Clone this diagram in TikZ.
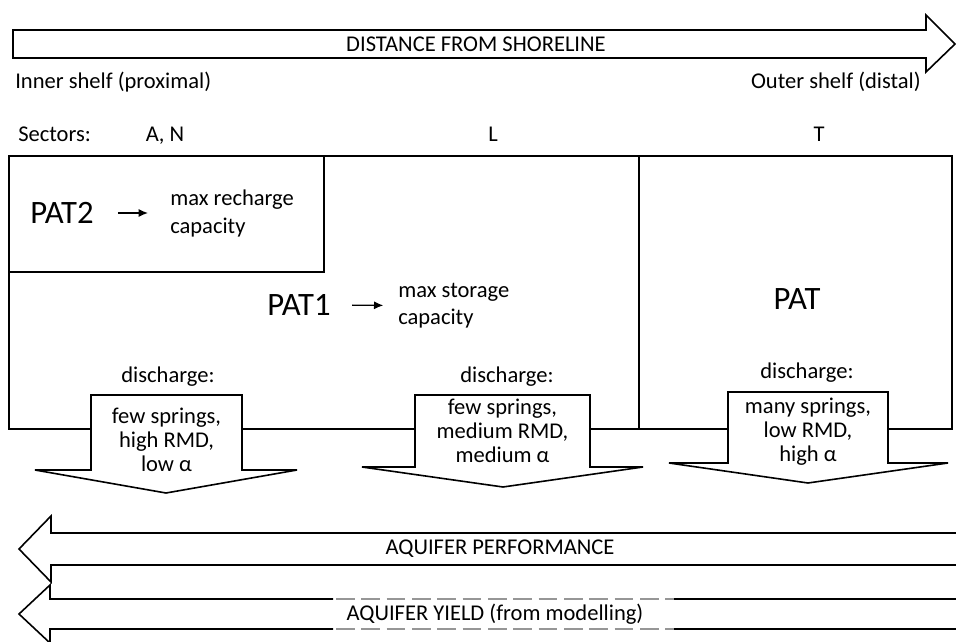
\documentclass[tikz,border=0pt]{standalone}
\usepackage{fontspec}
\setmainfont{Carlito}
\usetikzlibrary{arrows.meta}
\begin{document}
\begin{tikzpicture}[x=0.75pt,y=-0.75pt,
  txt/.style={inner sep=0pt, font=\fontsize{16.9}{19}\selectfont},
  big/.style={inner sep=0pt, font=\fontsize{24.5}{28}\selectfont},
  frame/.style={draw=black, line width=1.2pt},
  arrowshape/.style={draw=black, fill=white, line width=1.2pt, line join=miter},
  desc/.style={inner sep=0pt, align=left, anchor=west},
  spring/.style={inner sep=0pt, align=center, font=\fontsize{16.9}{18}\selectfont},
  pointer/.style={-{Latex[length=7pt,width=6pt]}, line width=1pt},
  yielddash/.style={draw={rgb,255:red,150;green,150;blue,150}, line width=1.8pt, dash pattern=on 14pt off 5pt}
]
\clip (0,0) rectangle (956,642);

% top arrow
\draw[arrowshape] (13,30) -- (926,30) -- (926,15) -- (955,44) -- (926,72) -- (926,58) -- (13,58) -- cycle;
\node[txt] (dist) at (476,44) {DISTANCE FROM SHORELINE};
\node[txt, anchor=west] (inner) at (15,82) {Inner shelf (proximal)};
\node[txt, anchor=east] (outer) at (921,82) {Outer shelf (distal)};

% sectors
\node[txt, anchor=base west] (sect) at (18,141) {Sectors:};
\node[txt, anchor=base] (secAN) at (165,141) {A, N};
\node[txt, anchor=base] (secL) at (493,141) {L};
\node[txt, anchor=base] (secT) at (819,141) {T};

% frames
\draw[frame] (9,156) rectangle (952,429);
\draw[frame] (9,156) rectangle (324,272);
\draw[frame] (639,156) -- (639,429);

% PAT2
\node[big] (pat2) at (62,213) {PAT2};
\node[txt, desc, font=\fontsize{16.9}{21}\selectfont] (rech) at (170,213) {max recharge\\capacity};
\draw[pointer, shorten <=18pt, shorten >=16.5pt] (pat2.east) -- (rech.west);

% PAT1
\node[big] (pat1) at (299,305) {PAT1};
\node[txt, desc, font=\fontsize{16.9}{20}\selectfont] (stor) at (398,305.5) {max storage\\capacity};
\draw[pointer, shorten <=16pt, shorten >=11pt] (pat1.east) -- (stor.west);

% PAT
\node[big] (pat) at (797,299) {PAT};

% discharge labels
\node[txt] (dis1) at (168,377) {discharge:};
\node[txt] (dis2) at (507,377) {discharge:};
\node[txt] (dis3) at (807,373) {discharge:};

% discharge arrows
\draw[arrowshape] (91,395) -- (242,395) -- (242,470) -- (297,470) -- (166,493) -- (35,470) -- (91,470) -- cycle;
\draw[arrowshape] (415,395) -- (590,395) -- (590,467) -- (643,467) -- (503,487) -- (362,467) -- (415,467) -- cycle;
\draw[arrowshape] (728,392) -- (888,392) -- (888,463) -- (948,463) -- (808,483) -- (669,463) -- (728,463) -- cycle;
\node[spring] (sp1) at (166.5,440) {few springs,\\high RMD,\\low α};
\node[spring] (sp2) at (502.5,431) {few springs,\\medium RMD,\\medium α};
\node[spring] (sp3) at (808,432) {many springs,\\low RMD,\\high α};

% aquifer performance arrow
\draw[arrowshape] (957,533) -- (51,533) -- (51,516) -- (19,549) -- (51,582) -- (51,565) -- (957,565);
\node[txt] (perf) at (500,549) {AQUIFER PERFORMANCE};

% aquifer yield arrow
\draw[arrowshape] (333,599) -- (50,599) -- (50,585) -- (19,614) -- (50,643) -- (50,629) -- (333,629);
\draw[line width=1.2pt] (674,599) -- (957,599);
\draw[line width=1.2pt] (674,629) -- (957,629);
\draw[yielddash] (336,599) -- (674,599);
\draw[yielddash] (336,629) -- (674,629);
\node[txt] (yield) at (495,614) {AQUIFER YIELD (from modelling)};
\end{tikzpicture}
\end{document}
